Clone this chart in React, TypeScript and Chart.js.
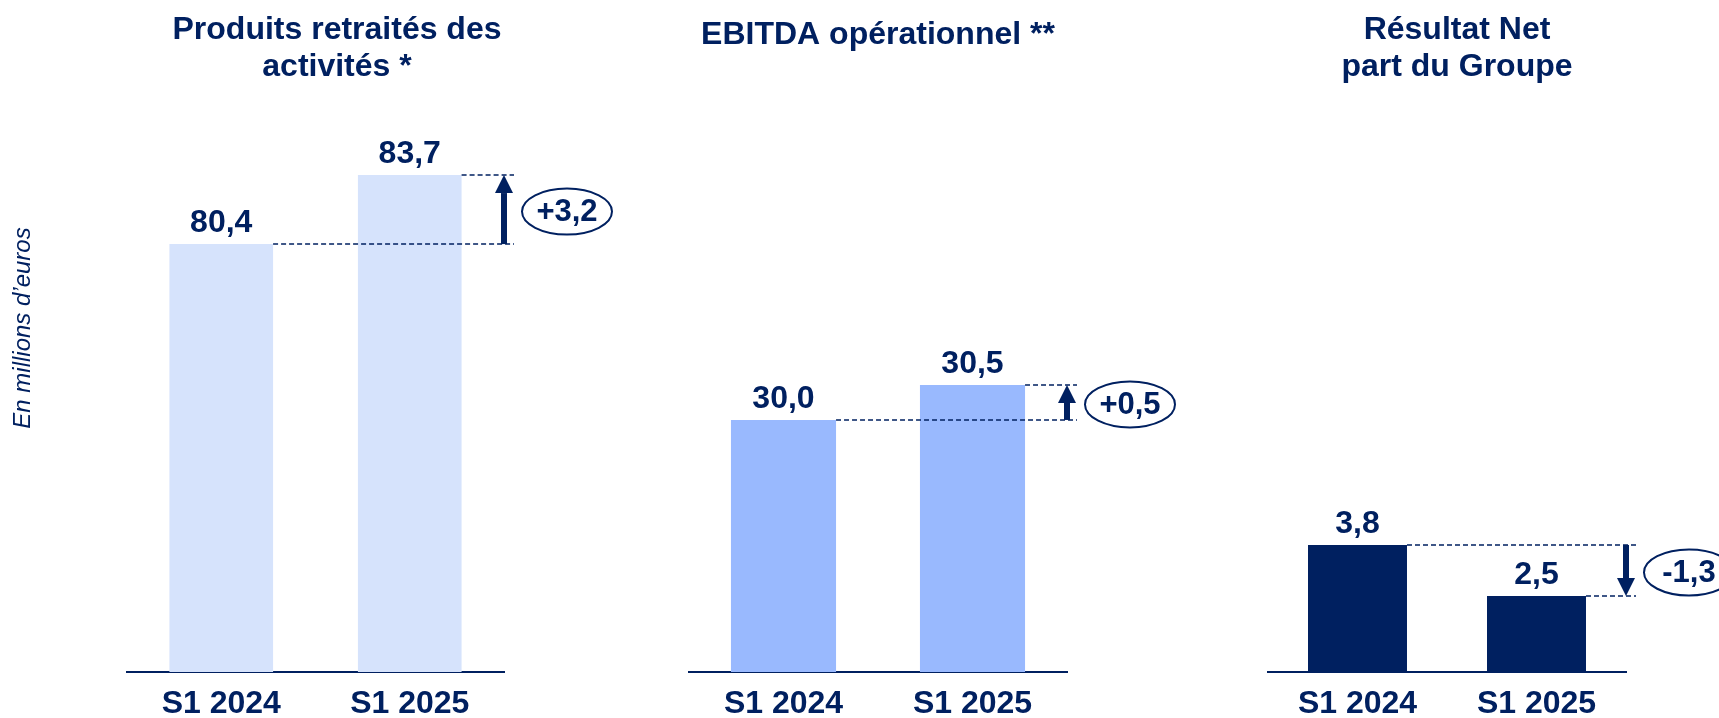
import { useEffect, useRef } from 'react';
import { Chart, registerables } from 'chart.js';

Chart.register(...registerables);

// ---------- data ----------
const categories = ['S1 2024', 'S1 2025'];
const produitsValues = [80.4, 83.7];
const ebitdaValues = [30.0, 30.5];
const resultatValues = [3.8, 2.5];
const deltaValues = [3.2, 0.5, -1.3];
const panelTitles = [
  ['Produits retraités des', 'activités *'],
  ['EBITDA opérationnel **'],
  ['Résultat Net', 'part du Groupe'],
];
const yAxisLabel = 'En millions d’euros';

// ---------- layout / style ----------
const W = 1719;
const H = 718;
const AXIS_Y = 672;
const PLOT_TOP = 100;
const NAVY = '#002060';
const FONT = '"Liberation Sans", Arial, Helvetica, sans-serif';

const fmt = (v: number) => v.toFixed(1).replace('.', ',');
const fmtDelta = (v: number) => (v > 0 ? '+' : '') + fmt(v);

const panels = [
  {
    values: produitsValues, delta: deltaValues[0], title: panelTitles[0], color: '#D6E3FC',
    left: 127, right: 504, yMin: 59.93, yMax: 87.29, titleX: 337, titleY: [30, 67], barPct: 0.55,
  },
  {
    values: ebitdaValues, delta: deltaValues[1], title: panelTitles[1], color: '#99B9FE',
    left: 689, right: 1067, yMin: 26.4, yMax: 34.57, titleX: 878, titleY: [35], barPct: 0.556,
  },
  {
    values: resultatValues, delta: deltaValues[2], title: panelTitles[2], color: NAVY,
    left: 1268, right: 1626, yMin: 0.563, yMax: 15.14, titleX: 1457, titleY: [30, 67], barPct: 0.553,
  },
];

function makePlugin(p: any, withYLabel: boolean) {
  return {
    id: 'annotations',
    afterDraw(chart: any) {
      const ctx = chart.ctx;
      const meta = chart.getDatasetMeta(0);
      const els = meta.data;
      ctx.save();
      ctx.fillStyle = NAVY;
      ctx.strokeStyle = NAVY;

      // titles
      ctx.font = `bold 32px ${FONT}`;
      ctx.textAlign = 'center';
      ctx.textBaseline = 'middle';
      p.title.forEach((line: string, i: number) => ctx.fillText(line, p.titleX, p.titleY[i]));

      // value labels
      ctx.font = `bold 32px ${FONT}`;
      ctx.textBaseline = 'alphabetic';
      els.forEach((el: any, i: number) => {
        ctx.fillText(fmt(p.values[i]), el.x, el.y - 12);
      });

      // dashed reference lines
      const arrowX = chart.chartArea.right;
      const dashEnd = arrowX + 10;
      ctx.setLineDash([5, 3]);
      ctx.lineWidth = 1.6;
      els.forEach((el: any) => {
        ctx.beginPath();
        ctx.moveTo(el.x + el.width / 2, el.y);
        ctx.lineTo(dashEnd, el.y);
        ctx.stroke();
      });
      ctx.setLineDash([]);

      // arrow
      const y0 = els[0].y;
      const y1 = els[1].y;
      const dir = y1 < y0 ? -1 : 1;
      const headLen = 18;
      const headHalf = 9;
      const shaft = 6;
      ctx.fillRect(arrowX - shaft / 2, Math.min(y0, y1 - dir * headLen), shaft, Math.abs(y1 - dir * headLen - y0));
      ctx.beginPath();
      ctx.moveTo(arrowX, y1);
      ctx.lineTo(arrowX - headHalf, y1 - dir * headLen);
      ctx.lineTo(arrowX + headHalf, y1 - dir * headLen);
      ctx.closePath();
      ctx.fill();

      // ellipse with delta
      const cx = arrowX + 63;
      const cy = (y0 + y1) / 2 + 2;
      ctx.lineWidth = 2;
      ctx.beginPath();
      ctx.ellipse(cx, cy, 45, 23, 0, 0, Math.PI * 2);
      ctx.stroke();
      ctx.font = `bold 31px ${FONT}`;
      ctx.textAlign = 'center';
      ctx.textBaseline = 'middle';
      ctx.fillText(fmtDelta(p.delta), cx, cy + 1);

      // y label
      if (withYLabel) {
        ctx.translate(23, 328);
        ctx.rotate(-Math.PI / 2);
        ctx.font = `italic 24px ${FONT}`;
        ctx.fillText(yAxisLabel, 0, 0);
      }
      ctx.restore();
    },
  };
}

function Panel({ p, index }: { p: any; index: number }) {
  const ref = useRef<HTMLCanvasElement>(null);
  useEffect(() => {
    if (!ref.current) return;
    const chart = new Chart(ref.current, {
      type: 'bar',
      data: {
        labels: categories,
        datasets: [
          {
            data: p.values,
            backgroundColor: p.color,
            borderWidth: 0,
            barPercentage: p.barPct,
            categoryPercentage: 1,
          },
        ],
      },
      options: {
        responsive: false,
        animation: false,
        events: [],
        layout: { padding: { left: p.left, right: W - p.right, top: PLOT_TOP, bottom: 0 } },
        plugins: { legend: { display: false }, tooltip: { enabled: false }, title: { display: false } },
        scales: {
          x: {
            type: 'category',
            offset: true,
            z: 1,
            grid: { display: false },
            border: { display: true, color: NAVY, width: 2 },
            ticks: {
              color: NAVY,
              font: { family: FONT, size: 32, weight: 'bold' },
              padding: 5,
              maxRotation: 0,
              autoSkip: false,
            },
            afterFit: (s: any) => {
              s.height = H - AXIS_Y;
            },
          },
          y: { display: false, min: p.yMin, max: p.yMax },
        },
      } as any,
      plugins: [makePlugin(p, index === 0)],
    });
    return () => chart.destroy();
  }, []);
  return (
    <canvas
      ref={ref}
      width={W}
      height={H}
      style={{ position: 'absolute', left: 0, top: 0, width: W, height: H }}
    />
  );
}

export default function App() {
  return (
    <div style={{ position: 'absolute', left: 0, top: 0, width: W, height: H, overflow: 'hidden', background: '#fff' }}>
      {panels.map((p, i) => (
        <Panel key={i} p={p} index={i} />
      ))}
    </div>
  );
}
